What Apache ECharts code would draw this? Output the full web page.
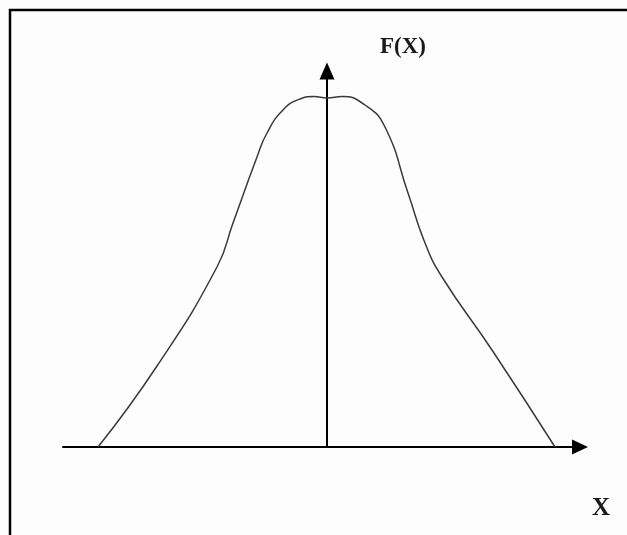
<!DOCTYPE html>
<html>
<head>
    <meta charset="utf-8">
    <title>F(X)</title>
    <script src="https://cdn.jsdelivr.net/npm/echarts@6/dist/echarts.min.js"></script>
    <style>
        html, body { margin: 0; padding: 0; background: #fff; }
        #chart { width: 627px; height: 535px; }
    </style>
</head>
<body>
    <div id="chart"></div>
    <script type="text/javascript">
        // curve (x, F(X))
        var curveX = [-4.58, -3.40, -2.20, -1.88, -1.40, -1.20, -0.88, -0.54, -0.26, 0, 0.30, 0.76, 1.16, 1.62, 1.96, 2.30, 3.30, 4.56];
        var curveY = [0, 1.62, 3.60, 4.48, 5.80, 6.28, 6.74, 6.96, 7.01, 6.98, 7.01, 6.84, 6.40, 5.08, 4.08, 3.40, 1.94, 0];
        var yName = 'F(X)';
        var xName = 'X';

        var points = [];
        for (var i = 0; i < curveX.length; i++) {
            points.push([curveX[i], curveY[i]]);
        }

        var chart = echarts.init(document.getElementById('chart'));
        var option = {
            backgroundColor: '#fdfdfd',
            animation: false,
            grid: {
                left: 63,
                right: 47,
                top: 71,
                bottom: 88
            },
            xAxis: {
                type: 'value',
                min: -5.28,
                max: 5.06,
                axisLine: {
                    onZero: true,
                    symbol: ['none', 'triangle'],
                    symbolSize: [15, 16],
                    lineStyle: { color: '#000', width: 2 }
                },
                axisTick: { show: false },
                axisLabel: { show: false },
                splitLine: { show: false }
            },
            yAxis: {
                type: 'value',
                min: 0,
                max: 7.52,
                axisLine: {
                    show: true,
                    onZero: true,
                    symbol: ['none', 'triangle'],
                    symbolSize: [15, 17],
                    lineStyle: { color: '#000', width: 2 }
                },
                axisTick: { show: false },
                axisLabel: { show: false },
                splitLine: { show: false }
            },
            graphic: [
                {
                    type: 'rect',
                    shape: { x: 10, y: 10, width: 700, height: 700 },
                    style: { fill: 'none', stroke: '#000', lineWidth: 2.5 }
                },
                {
                    type: 'text',
                    x: 403,
                    y: 47,
                    style: {
                        text: yName,
                        font: 'bold 23px "Liberation Serif", serif',
                        fill: '#1a1a1a',
                        align: 'center',
                        verticalAlign: 'middle'
                    }
                },
                {
                    type: 'text',
                    x: 601,
                    y: 509,
                    style: {
                        text: xName,
                        font: 'bold 25px "Liberation Serif", serif',
                        fill: '#1a1a1a',
                        align: 'center',
                        verticalAlign: 'middle'
                    }
                }
            ],
            series: [
                {
                    type: 'line',
                    data: points,
                    smooth: 0.5,
                    showSymbol: false,
                    lineStyle: { color: '#3a3a3a', width: 1.5 }
                }
            ]
        };
        chart.setOption(option);
    </script>
</body>
</html>
